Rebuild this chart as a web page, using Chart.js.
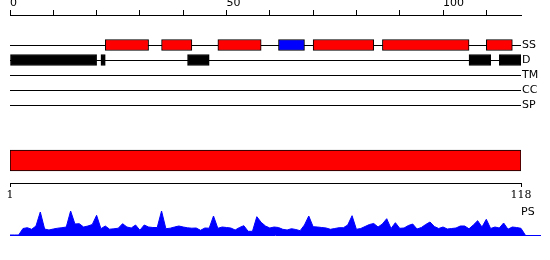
<!DOCTYPE html>
<html>
<head>
<meta charset="utf-8">
<script src="https://cdn.jsdelivr.net/npm/chart.js@4/dist/chart.umd.min.js"></script>
<style>
  body { margin: 0; background: #fff; width: 550px; height: 260px; position: relative; overflow: hidden; }
  canvas { position: absolute; left: 0; }
  #tracks { top: 0; }
  #seq { top: 138px; }
  #ps { top: 205px; }
  #psLabel { position: absolute; left: 521px; top: 205px; font: 11px "DejaVu Sans"; color: #000; }
</style>
</head>
<body>
<canvas id="tracks" width="550" height="120"></canvas>
<canvas id="seq" width="550" height="70"></canvas>
<canvas id="ps" width="550" height="35"></canvas>
<div id="psLabel">PS</div>
<script>
var seqLength = 118;
var trackNames = ['SS', 'D', 'TM', 'CC', 'SP'];
var axisLabels = [0, 50, 100];
var seqTicks = [1, 118];

// secondary structure: H = helix (red), E = strand (blue)
var ssStart = [22, 35, 48, 62, 70, 86, 110];
var ssEnd = [32, 42, 58, 68, 84, 106, 116];
var ssType = ['H', 'H', 'H', 'E', 'H', 'H', 'H'];

// disordered regions
var dStart = [0, 21, 41, 106, 113];
var dEnd = [20, 22, 46, 111, 118];

// PS score per residue
var psValues = [0, 0, 0, 6.5, 7.3, 5.7, 9, 23, 6, 5,
  6, 6.8, 7.3, 8, 24, 11, 11.3, 8, 9, 10.5,
  19.7, 6.3, 9, 5.8, 6.2, 6.8, 11.3, 8, 7, 10,
  4.8, 10, 8, 7.5, 7.5, 24, 6.3, 6.8, 8, 9,
  8, 7.2, 6.8, 7, 4.7, 7, 6.8, 19, 6.7, 8,
  7.5, 7, 5, 7.5, 9.3, 3.7, 3.7, 18.3, 12.7, 9,
  7, 8, 7.5, 5.7, 5, 6.3, 5.5, 4.3, 10, 19,
  8.3, 8, 7.5, 7, 5.7, 6.5, 7.3, 7.3, 10, 19.3,
  5.7, 6.5, 8.5, 10.5, 11.5, 8, 11, 16.3, 6.5, 12.3,
  6.7, 7, 9.5, 11, 6, 7.5, 10.5, 13, 8.5, 6.5,
  8, 6, 6.5, 7, 9, 9, 6.2, 10, 14.3, 8,
  15.7, 6.5, 8, 7, 12, 5.8, 8, 7.5, 6.7, 0];

Chart.defaults.color = '#000';
Chart.defaults.font.family = '"DejaVu Sans"';
Chart.defaults.font.size = 11;
Chart.defaults.animation = false;

var noPlugins = { legend: { display: false }, tooltip: { enabled: false } };

// feature tracks
new Chart(document.getElementById('tracks'), {
  type: 'bar',
  data: {
    datasets: [{
      data: ssStart.map(function(s, i) { return { x: [s, ssEnd[i]], y: 0 }; }),
      backgroundColor: ssType.map(function(t) { return t === 'E' ? '#0000ff' : '#ff0000'; }),
      borderColor: '#000',
      borderWidth: 1,
      borderSkipped: false,
      barThickness: 11,
      grouped: false
    }, {
      data: dStart.map(function(s, i) { return { x: [s, dEnd[i]], y: 1 }; }),
      backgroundColor: '#000',
      borderColor: '#000',
      borderWidth: 1,
      borderSkipped: false,
      barThickness: 11,
      grouped: false
    }]
  },
  options: {
    indexAxis: 'y',
    responsive: false,
    devicePixelRatio: 1,
    layout: { padding: { left: 10 } },
    plugins: noPlugins,
    scales: {
      x: {
        type: 'linear',
        position: 'top',
        min: 0,
        max: seqLength,
        ticks: {
          stepSize: 10,
          includeBounds: false,
          autoSkip: false,
          maxRotation: 0,
          align: 'start',
          padding: 0,
          callback: function(v) { return axisLabels.indexOf(v) >= 0 ? String(v) : ''; }
        },
        grid: { drawOnChartArea: false, color: '#000', tickLength: 5 },
        border: { color: '#000' },
        afterFit: function(a) { a.height = 15; a.paddingLeft = 0; a.paddingRight = 0; }
      },
      y: {
        type: 'linear',
        position: 'right',
        reverse: true,
        offset: false,
        min: -2,
        max: 5,
        afterBuildTicks: function(a) {
          a.ticks = trackNames.map(function(n, i) { return { value: i }; });
        },
        ticks: { padding: 1, callback: function(v) { return trackNames[v]; } },
        grid: { color: '#000', drawTicks: false, offset: false },
        border: { display: false },
        afterFit: function(a) { a.width = 29; a.paddingTop = 0; a.paddingBottom = 0; }
      }
    }
  }
});

// whole sequence
new Chart(document.getElementById('seq'), {
  type: 'bar',
  data: {
    labels: ['seq'],
    datasets: [{
      data: [[1, seqLength]],
      backgroundColor: '#ff0000',
      borderColor: '#000',
      borderWidth: 1,
      borderSkipped: false,
      barThickness: 21
    }]
  },
  options: {
    indexAxis: 'y',
    responsive: false,
    devicePixelRatio: 1,
    layout: { padding: { left: 10, right: 29 } },
    plugins: noPlugins,
    scales: {
      x: {
        type: 'linear',
        position: 'bottom',
        min: 1,
        max: seqLength,
        afterBuildTicks: function(a) {
          a.ticks = seqTicks.map(function(v) { return { value: v }; });
        },
        ticks: { font: { family: '"DejaVu Serif"', size: 11 }, padding: 2, maxRotation: 0, autoSkip: false },
        grid: { drawOnChartArea: false, color: '#000', tickLength: 4 },
        border: { color: '#000' },
        afterFit: function(a) { a.height = 25; }
      },
      y: { display: false }
    }
  }
});

// PS profile
new Chart(document.getElementById('ps'), {
  type: 'line',
  data: {
    datasets: [{
      data: psValues.map(function(v, i) { return { x: i, y: v }; }),
      borderColor: '#0000ff',
      borderWidth: 1,
      pointRadius: 0,
      fill: 'origin',
      backgroundColor: '#0000ff',
      tension: 0
    }]
  },
  options: {
    responsive: false,
    devicePixelRatio: 1,
    layout: { padding: { left: 10, right: 10, top: 5 } },
    plugins: noPlugins,
    scales: {
      x: {
        type: 'linear',
        min: 0,
        max: 122.4,
        ticks: { display: false },
        grid: { display: false },
        border: { color: '#0000ff' },
        afterFit: function(a) { a.height = 5; }
      },
      y: { min: 0, max: 25, display: false }
    }
  }
});
</script>
</body>
</html>
